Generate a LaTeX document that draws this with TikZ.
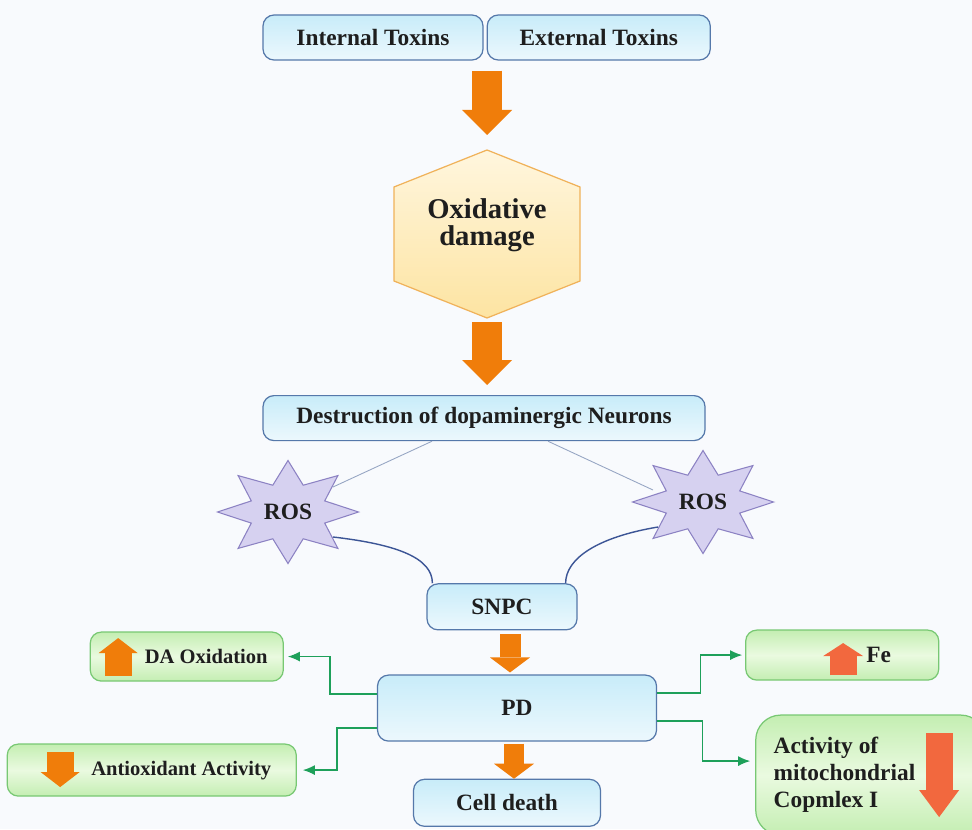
\documentclass[tikz,border=0pt]{standalone}
\usepackage{fontspec}
\setmainfont{Liberation Serif}
\usepackage{tikz}
\usepackage{xcolor}
\usetikzlibrary{positioning}
\usetikzlibrary{calc}
\usetikzlibrary{arrows.meta}
\usetikzlibrary{backgrounds}
\pgfdeclarelayer{background}
\pgfsetlayers{background,main}
\definecolor{paper}{RGB}{248, 250, 253}
\definecolor{inkgrey}{RGB}{30, 30, 30}
\definecolor{boxtop}{RGB}{200, 236, 249}
\definecolor{boxbot}{RGB}{236, 248, 253}
\definecolor{boxline}{RGB}{85, 120, 170}
\definecolor{leaftop}{RGB}{196, 238, 178}
\definecolor{leafmid}{RGB}{234, 250, 224}
\definecolor{leafline}{RGB}{120, 200, 115}
\definecolor{oxtop}{RGB}{255, 246, 222}
\definecolor{oxbot}{RGB}{253, 228, 162}
\definecolor{oxline}{RGB}{240, 178, 90}
\definecolor{rosfill}{RGB}{214, 209, 240}
\definecolor{rosline}{RGB}{140, 130, 195}
\definecolor{arrorange}{RGB}{240, 125, 10}
\definecolor{arrcoral}{RGB}{242, 104, 62}
\definecolor{linkgreen}{RGB}{30, 160, 90}
\definecolor{curveblue}{RGB}{60, 85, 150}
\definecolor{thinblue}{RGB}{150, 165, 195}
\newcommand{\mainsize}{\fontsize{13.3}{15.3}\selectfont\bfseries}
\newcommand{\sidesize}{\fontsize{11.7}{14}\selectfont\bfseries}
\newcommand{\hexsize}{\fontsize{16.3}{15.2}\selectfont\bfseries}
\tikzstyle{bluebox} = [
	draw=boxline,
	line width=0.7pt,
	top color=boxtop,
	bottom color=boxbot,
	rounded corners=0.22cm,
	minimum height=0.9cm,
	inner sep=0pt,
	text=inkgrey,
	font=\mainsize
]
\tikzstyle{greenbox} = [
	draw=leafline,
	line width=0.7pt,
	top color=leaftop,
	bottom color=leaftop,
	middle color=leafmid,
	rounded corners=0.22cm,
	inner sep=0pt,
	text=inkgrey,
	font=\sidesize
]
\tikzstyle{hexface} = [
	draw=oxline,
	line width=0.7pt,
	top color=oxtop,
	bottom color=oxbot
]
\tikzstyle{rostext} = [
	inner sep=0pt,
	text=inkgrey,
	font=\mainsize
]
\tikzstyle{rosface} = [
	draw=rosline,
	fill=rosfill,
	line width=0.6pt
]
\tikzstyle{bigarrow} = [
	draw=arrorange,
	line width=0.6cm,
	-{Triangle[width=1cm,length=0.5cm,line width=0pt]}
]
\tikzstyle{midarrow} = [
	draw=arrorange,
	line width=0.42cm,
	-{Triangle[width=0.8cm,length=0.3cm,line width=0pt]}
]
\tikzstyle{boxarrow} = [
	line width=0.54cm,
	-{Triangle[width=0.78cm,length=0.3cm,line width=0pt]}
]
\tikzstyle{thinlink} = [draw=thinblue, line width=0.5pt]
\tikzstyle{rosvein} = [draw=curveblue, line width=0.8pt]
\tikzstyle{greenlink} = [
	draw=linkgreen,
	line width=0.7pt,
	-{Latex[length=0.24cm,width=0.2cm]}
]

\begin{document}
\begin{tikzpicture}[node distance=0.0cm and 0.0cm]

	\useasboundingbox (0,0) rectangle (19.44,-16.58);
	\clip (0,0) rectangle (19.44,-16.58);
	\begin{scope}[on background layer]
		\fill[paper] (0,0) rectangle (19.44,-16.58);
	\end{scope}

	%
	% Toxins and oxidative damage
	\node[bluebox, minimum width=4.4cm] (intox) at (7.46,-0.75) {Internal Toxins};
	\node[bluebox, minimum width=4.46cm, right=0.06cm of intox] (extox) {External Toxins};

	\node[font=\hexsize, text=inkgrey, align=center] (oxd) at (9.74,-4.5) {Oxidative\\damage};
	\coordinate (hextop) at ($(oxd)+(0,1.5)$);
	\coordinate (hexbot) at ($(oxd)+(0,-1.86)$);
	\begin{scope}[on background layer]
		\draw[hexface] (hextop) -- ++(1.86,-0.74) -- ++(0,-1.88) -- (hexbot) -- ++(-1.86,0.74) -- ++(0,1.88) -- cycle;
	\end{scope}
	\draw[bigarrow, shorten <=0.2cm, shorten >=0.3cm] (hextop |- intox.south) -- (hextop);

	\node[bluebox, minimum width=8.84cm, below=1.54cm of hexbot, xshift=-0.06cm] (destr) {Destruction of dopaminergic Neurons};
	\draw[bigarrow, shorten <=0.08cm, shorten >=0.2cm] (hexbot) -- (hexbot |- destr.north);

	%
	% ROS stars
	\node[rostext] (rosl) at (5.76,-10.24) {ROS};
	\node[rostext] (rosr) at (14.06,-10.04) {ROS};
	\begin{scope}[on background layer]
		\foreach \s in {rosl,rosr}
			\draw[rosface, shift={(\s)}, xscale=1.37] (0:1.03) \foreach \k in {1,...,15} { -- ({\k*22.5}:{isodd(\k) ? 0.58 : 1.03}) } -- cycle;
	\end{scope}
	\draw[thinlink] ([xshift=-1.04cm]destr.south) -- ([shift={(0.9,0.5)}]rosl.center);
	\draw[thinlink] ([xshift=1.28cm]destr.south) -- ([shift={(-1.0,0.24)}]rosr.center);

	%
	% SNPC, PD and cell death
	\node[bluebox, minimum width=3cm, minimum height=0.92cm, below=2.84cm of destr, xshift=0.36cm] (snpc) {SNPC};
	\draw[rosvein] ([shift={(0.9,-0.5)}]rosl.center) .. controls +(1.3,-0.15) and +(0,0.5) .. ([xshift=0.12cm]snpc.north west);
	\draw[rosvein] ([shift={(-0.9,-0.5)}]rosr.center) .. controls +(-1.2,-0.2) and +(0,0.5) .. ([xshift=-0.24cm]snpc.north east);

	\node[bluebox, minimum width=5.58cm, minimum height=1.32cm, below=0.88cm of snpc, xshift=0.3cm] (pd) {PD};
	\draw[midarrow, shorten <=0.08cm, shorten >=0.04cm] ([xshift=0.16cm]snpc.south) -- ($(snpc.south |- pd.north)+(0.16,0)$);

	\node[bluebox, minimum width=3.74cm, minimum height=0.94cm, below=0.74cm of pd, xshift=-0.2cm] (cell) {Cell death};
	\draw[midarrow, line width=0.4cm, shorten <=0.04cm] ([xshift=-0.06cm]pd.south) -- ($(pd.south |- cell.north)+(-0.06,0)$);

	%
	% Effects of PD
	\node[greenbox, minimum width=3.86cm, minimum height=0.98cm, left=1.86cm of pd, yshift=1.03cm] (daox) {\hspace*{0.78cm}DA Oxidation};
	\node[greenbox, minimum width=5.78cm, minimum height=1.04cm, left=1.6cm of pd, yshift=-1.24cm] (antiox) {\hspace*{1.18cm}Antioxidant Activity};
	\node[greenbox, font=\mainsize, minimum width=3.86cm, minimum height=1cm, right=1.76cm of pd, yshift=1.06cm] (fe) {\hspace*{1.46cm}Fe};
	\node[greenbox, font=\mainsize, minimum width=4.6cm, minimum height=2.4cm, text width=3.88cm, inner xsep=0.36cm, align=flush left, rounded corners=0.5cm, right=1.96cm of pd, yshift=-1.34cm] (mito) {Activity of\\mitochondrial\\Copmlex I};

	\draw[boxarrow, arrorange] ([xshift=0.57cm,yshift=-0.39cm]daox.west) -- ([xshift=0.57cm,yshift=0.37cm]daox.west);
	\draw[boxarrow, arrorange] ([xshift=1.07cm,yshift=0.36cm]antiox.west) -- ([xshift=1.07cm,yshift=-0.34cm]antiox.west);
	\draw[boxarrow, arrcoral, -{Triangle[width=0.8cm,length=0.26cm,line width=0pt]}] ([xshift=1.96cm,yshift=-0.4cm]fe.west) -- ([xshift=1.96cm,yshift=0.24cm]fe.west);
	\draw[boxarrow, arrcoral, -{Triangle[width=0.8cm,length=0.54cm,line width=0pt]}] ([xshift=3.68cm,yshift=0.84cm]mito.west) -- ([xshift=3.68cm,yshift=-0.84cm]mito.west);

	\draw[greenlink, shorten >=0.08cm] ([yshift=0.28cm]pd.west) -- ++(-0.94,0) |- (daox.east);
	\draw[greenlink, shorten >=0.12cm] ([yshift=-0.4cm]pd.west) -- ++(-0.8,0) |- (antiox.east);
	\draw[greenlink, shorten >=0.06cm] ([yshift=0.3cm]pd.east) -- ++(0.86,0) |- (fe.west);
	\draw[greenlink, shorten >=0.1cm] ([yshift=-0.26cm]pd.east) -- ++(0.9,0) |- ([yshift=0.28cm]mito.west);

\end{tikzpicture}
\end{document}
